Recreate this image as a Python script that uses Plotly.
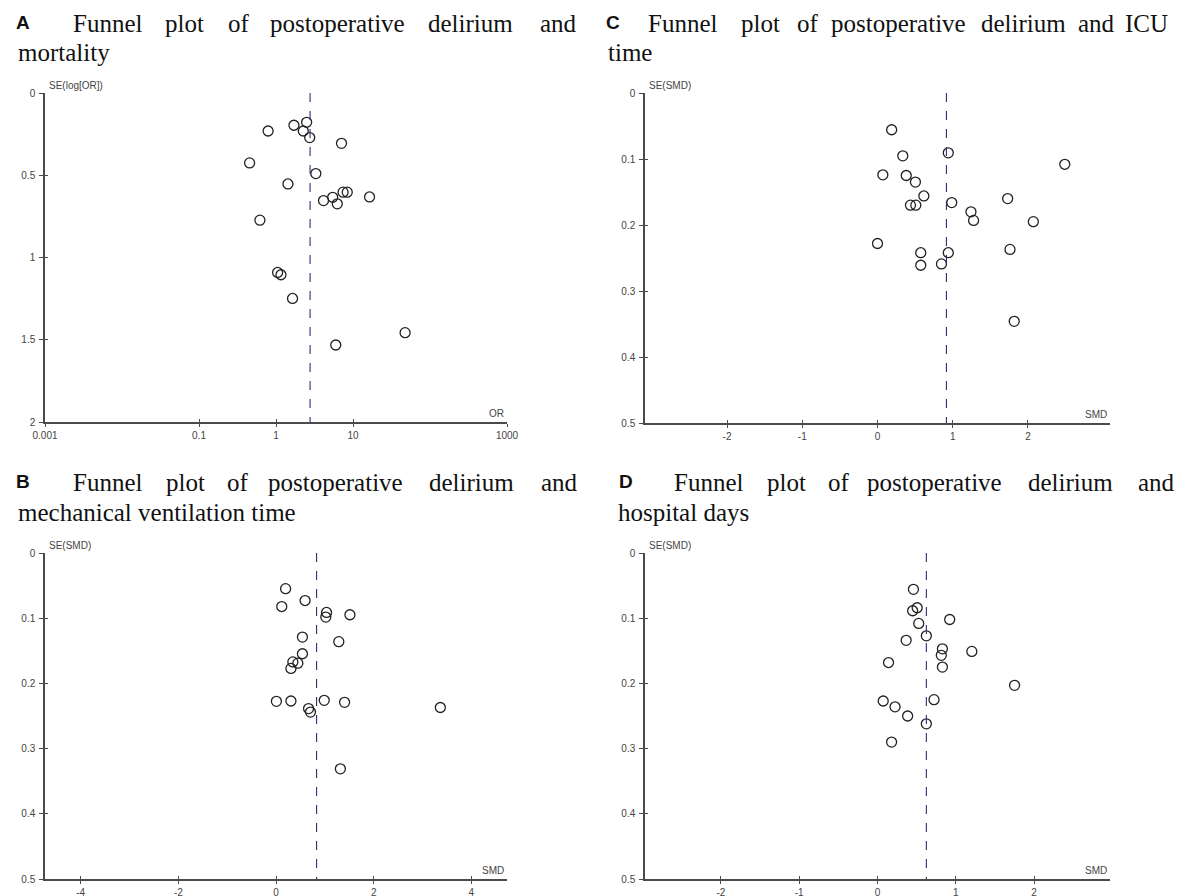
import plotly.graph_objects as go

W, H = 1184, 896
PAGE_OFFSET = 8  # the page body adds an 8 px margin around the figure

# ---------------- data ----------------
# A: postoperative delirium and mortality (OR vs SE(log[OR]))
A_or = [0.79, 1.71, 2.50, 2.26, 2.74, 7.09, 0.454, 3.29, 1.43, 7.43, 8.42,
        16.4, 5.45, 4.14, 6.25, 0.618, 1.05, 1.16, 1.64, 5.97, 47.5]
A_se = [0.231, 0.196, 0.178, 0.231, 0.271, 0.306, 0.425, 0.490, 0.553, 0.603, 0.603,
        0.632, 0.634, 0.654, 0.674, 0.773, 1.091, 1.105, 1.249, 1.532, 1.457]
A_pooled = 2.77

# B: mechanical ventilation time (SMD vs SE(SMD))
B_smd = [0.196, 0.596, 0.118, 1.035, 1.020, 1.514, 0.541, 1.286, 0.541, 0.345,
         0.447, 0.306, 0.008, 0.306, 0.988, 1.404, 0.667, 0.706, 3.365, 1.318]
B_se = [0.0547, 0.0729, 0.0821, 0.0912, 0.0983, 0.0947, 0.129, 0.136, 0.1545, 0.167,
        0.169, 0.177, 0.2275, 0.227, 0.226, 0.229, 0.2386, 0.244, 0.237, 0.331]
B_pooled = 0.831

# C: ICU time
C_smd = [0.188, 0.941, 0.336, 2.489, 0.071, 0.382, 0.504, 0.616, 0.987, 0.438, 0.509,
         1.730, 1.242, 1.277, 2.071, 0.0, 0.575, 0.941, 1.761, 0.575, 0.850, 1.817]
C_se = [0.0557, 0.0907, 0.0952, 0.108, 0.124, 0.125, 0.135, 0.156, 0.166, 0.170, 0.170,
        0.160, 0.180, 0.193, 0.195, 0.228, 0.242, 0.242, 0.237, 0.261, 0.259, 0.346]
C_pooled = 0.916

# D: hospital days
D_smd = [0.459, 0.507, 0.449, 0.922, 0.527, 0.624, 0.366, 0.829, 0.815, 1.205,
         0.141, 0.829, 1.751, 0.073, 0.722, 0.224, 0.385, 0.624, 0.180]
D_se = [0.0557, 0.084, 0.0886, 0.102, 0.108, 0.127, 0.134, 0.147, 0.157, 0.151,
        0.168, 0.175, 0.203, 0.227, 0.225, 0.236, 0.250, 0.262, 0.290]
D_pooled = 0.624

A_xticks = [0.001, 0.1, 1, 10, 1000]
A_xticktext = ["0.001", "0.1", "1", "10", "1000"]
A_yticks = [0, 0.5, 1, 1.5, 2]
A_yticktext = ["0", "0.5", "1", "1.5", "2"]
B_xticks = [-4, -2, 0, 2, 4]
CD_xticks = [-2, -1, 0, 1, 2]
SMD_yticks = [0, 0.1, 0.2, 0.3, 0.4, 0.5]
SMD_yticktext = ["0", "0.1", "0.2", "0.3", "0.4", "0.5"]

# ---------------- styling ----------------
AXIS_COL = "#4a4a4a"
TICK_FONT = dict(family="Liberation Sans, Arial", size=10, color="#444444")
TITLE_FONT = dict(family="Liberation Serif, Times New Roman", size=25, color="#111111")
LETTER_FONT = dict(family="Liberation Sans, Arial", size=19, color="#111111")
MARKER = dict(symbol="circle-open", size=10, color="#222222", line=dict(width=1.3, color="#222222"))
DASH_COL = "#2c2c72"


def fx(px):
    return (px - PAGE_OFFSET) / W


def fy(py):
    return 1 - (py - PAGE_OFFSET) / H


panels = [
    dict(n=1, xdom=(45, 507), ydom=(93, 422), xtype="log", xrange=[-3, 3],
         xt=A_xticks, xtt=A_xticktext, yrange=[2, 0], yt=A_yticks, ytt=A_yticktext,
         xs=A_or, ys=A_se, pooled=A_pooled, xlab="OR", ylab="SE(log[OR])"),
    dict(n=2, xdom=(645, 1110), ydom=(93, 423), xtype="linear", xrange=[-3.09, 3.09],
         xt=CD_xticks, xtt=[str(v) for v in CD_xticks], yrange=[0.5, 0], yt=SMD_yticks,
         ytt=SMD_yticktext, xs=C_smd, ys=C_se, pooled=C_pooled, xlab="SMD", ylab="SE(SMD)"),
    dict(n=3, xdom=(45, 507), ydom=(553, 879), xtype="linear", xrange=[-4.73, 4.73],
         xt=B_xticks, xtt=[str(v) for v in B_xticks], yrange=[0.5, 0], yt=SMD_yticks,
         ytt=SMD_yticktext, xs=B_smd, ys=B_se, pooled=B_pooled, xlab="SMD", ylab="SE(SMD)"),
    dict(n=4, xdom=(645, 1110), ydom=(553, 879), xtype="linear", xrange=[-2.97, 2.97],
         xt=CD_xticks, xtt=[str(v) for v in CD_xticks], yrange=[0.5, 0], yt=SMD_yticks,
         ytt=SMD_yticktext, xs=D_smd, ys=D_se, pooled=D_pooled, xlab="SMD", ylab="SE(SMD)"),
]

fig = go.Figure()
layout = dict(width=W, height=H, margin=dict(l=0, r=0, t=0, b=0, autoexpand=False),
              paper_bgcolor="white", plot_bgcolor="white", showlegend=False)
shapes = []
annotations = []

for p in panels:
    n = p["n"]
    xs = "" if n == 1 else str(n)
    xa, ya = "x" + xs, "y" + xs
    on = n + 4  # overlay axes draw the inner half of the crossing tick marks
    common_x = dict(type=p["xtype"], range=p["xrange"], tickvals=p["xt"], showgrid=False,
                    zeroline=False, automargin=False)
    common_y = dict(range=p["yrange"], tickvals=p["yt"], showgrid=False, zeroline=False,
                    automargin=False)
    layout["xaxis" + xs] = dict(**common_x, domain=[fx(p["xdom"][0]), fx(p["xdom"][1])],
                                anchor=ya, ticktext=p["xtt"], showline=True, linecolor=AXIS_COL,
                                linewidth=1.5, ticks="outside", ticklen=3, tickwidth=1.2,
                                tickcolor=AXIS_COL, tickfont=TICK_FONT, ticklabelstandoff=0)
    layout["yaxis" + xs] = dict(**common_y, domain=[fy(p["ydom"][1]), fy(p["ydom"][0])],
                                anchor=xa, ticktext=p["ytt"], showline=True, linecolor=AXIS_COL,
                                linewidth=1.5, ticks="outside", ticklen=4, tickwidth=1.2,
                                tickcolor=AXIS_COL, tickfont=TICK_FONT, ticklabelstandoff=2)
    layout["xaxis" + str(on)] = dict(**common_x, overlaying=xa, anchor=ya, showline=False,
                                     ticks="inside", ticklen=3, tickwidth=1.2,
                                     tickcolor=AXIS_COL, showticklabels=False)
    layout["yaxis" + str(on)] = dict(**common_y, overlaying=ya, anchor=xa, showline=False,
                                     ticks="inside", ticklen=3, tickwidth=1.2,
                                     tickcolor=AXIS_COL, showticklabels=False)
    fig.add_trace(go.Scatter(x=p["xs"], y=p["ys"], mode="markers", marker=MARKER,
                             xaxis=xa, yaxis=ya, hoverinfo="x+y"))
    fig.add_trace(go.Scatter(x=[], y=[], mode="markers", xaxis="x" + str(on),
                             yaxis="y" + str(on), hoverinfo="skip"))
    shapes.append(dict(type="line", xref=xa, yref=ya, x0=p["pooled"], x1=p["pooled"],
                       y0=p["yrange"][1], y1=p["yrange"][0],
                       line=dict(color=DASH_COL, width=1.1, dash="dash")))
    annotations.append(dict(text=p["ylab"], xref="paper", yref="paper",
                            x=fx(p["xdom"][0] + 3), y=fy(p["ydom"][0] - 1),
                            xanchor="left", yanchor="bottom", showarrow=False,
                            font=dict(family="Liberation Sans, Arial", size=10, color="#444444"),
                            borderpad=0))
    annotations.append(dict(text=p["xlab"], xref="paper", yref="paper",
                            x=fx(p["xdom"][1] - 2), y=fy(p["ydom"][1] - 2),
                            xanchor="right", yanchor="bottom", showarrow=False,
                            font=dict(family="Liberation Sans, Arial", size=10, color="#444444"),
                            borderpad=0))

# ---------------- panel titles (justified first lines, word by word) ----------------
titles = [
    dict(letter="A", lx=15, base1=31, base2=60,
         words=[("Funnel", 72), ("plot", 164), ("of", 227), ("postoperative", 269),
                ("delirium", 427), ("and", 539)], line2=("mortality", 17)),
    dict(letter="B", lx=15, base1=490, base2=520,
         words=[("Funnel", 72), ("plot", 165), ("of", 226), ("postoperative", 267),
                ("delirium", 428), ("and", 540)], line2=("mechanical ventilation time", 17)),
    dict(letter="C", lx=605, base1=31, base2=60,
         words=[("Funnel", 647), ("plot", 740), ("of", 796), ("postoperative", 830),
                ("delirium", 980), ("and", 1077), ("ICU", 1124)], line2=("time", 607)),
    dict(letter="D", lx=618, base1=490, base2=520,
         words=[("Funnel", 673), ("plot", 766), ("of", 827), ("postoperative", 866),
                ("delirium", 1027), ("and", 1137)], line2=("hospital days", 617)),
]
for t in titles:
    annotations.append(dict(text="<b>" + t["letter"] + "</b>", xref="paper", yref="paper",
                            x=fx(t["lx"]), y=fy(t["base1"] - 9), xanchor="left",
                            yanchor="middle", showarrow=False, font=LETTER_FONT, borderpad=0))
    for w, x0 in t["words"]:
        annotations.append(dict(text=w, xref="paper", yref="paper", x=fx(x0),
                                y=fy(t["base1"] - 7.5), xanchor="left", yanchor="middle",
                                showarrow=False, font=TITLE_FONT, borderpad=0))
    annotations.append(dict(text=t["line2"][0], xref="paper", yref="paper",
                            x=fx(t["line2"][1]), y=fy(t["base2"] - 7.5), xanchor="left",
                            yanchor="middle", showarrow=False, font=TITLE_FONT, borderpad=0))

layout["shapes"] = shapes
layout["annotations"] = annotations
fig.update_layout(**layout)
fig.write_html("out.html")
